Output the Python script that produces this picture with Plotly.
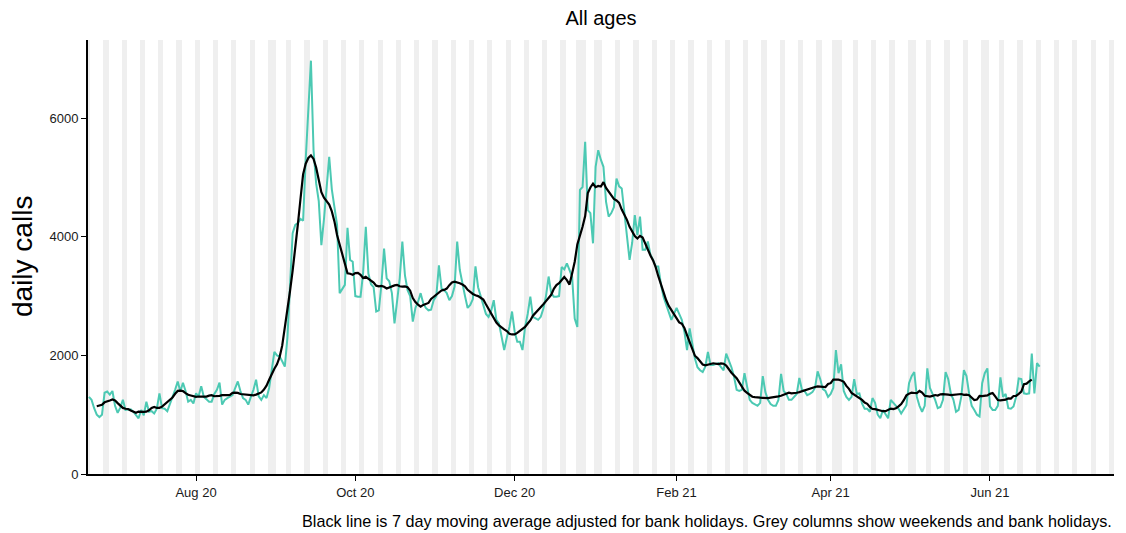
import pandas as pd
import plotly.graph_objects as go

# ---------------- data ----------------
start_date = "2020-06-21"          # first daily value (Sunday)

# daily calls, first value for Sun 21 Jun 2020, then one row per week Mon..Sun
calls = [1300,
    1250, 1110, 1000, 960, 1000, 1370, 1390,     # 22 Jun
    1340, 1400, 1150, 1030, 1120, 1250, 1080,    # 29 Jun
    1080, 1090, 1050, 1000, 940, 1080, 990,      # 6 Jul
    1220, 1050, 1060, 1020, 1100, 1360, 1110,    # 13 Jul
    1100, 1060, 1200, 1300, 1420, 1560, 1390,    # 20 Jul
    1540, 1400, 1220, 1250, 1190, 1360, 1310,    # 27 Jul
    1480, 1300, 1260, 1220, 1220, 1350, 1420,    # 3 Aug
    1540, 1170, 1250, 1280, 1300, 1330, 1450,    # 10 Aug
    1560, 1400, 1280, 1250, 1170, 1300, 1420,    # 17 Aug
    1590, 1310, 1250, 1330, 1280, 1450, 1750,    # 24 Aug
    2060, 2000, 1980, 1900, 1810, 2300, 3100,    # 31 Aug
    4060, 4200, 4230, 4300, 4270, 5300, 6100,    # 7 Sep
    6970, 5460, 4900, 4600, 3860, 4300, 4800,    # 14 Sep
    5350, 4800, 4500, 4200, 3050, 3120, 3190,    # 21 Sep
    4150, 3610, 3580, 3000, 2990, 2990, 3400,    # 28 Sep
    4170, 3380, 3200, 3150, 2740, 2760, 3200,    # 5 Oct
    3800, 3300, 3250, 3050, 2540, 2900, 3300,    # 12 Oct
    3920, 3350, 3100, 3000, 2570, 2800, 2900,    # 19 Oct
    3050, 2880, 2800, 2760, 2770, 2930, 3000,    # 26 Oct
    3520, 3130, 3100, 3050, 2930, 3000, 3160,    # 2 Nov
    3920, 3440, 3200, 3000, 2800, 2850, 2950,    # 9 Nov
    3500, 3150, 3000, 2850, 2700, 2650, 2750,    # 16 Nov
    2930, 2600, 2540, 2320, 2090, 2300, 2480,    # 23 Nov
    2740, 2400, 2230, 2230, 2090, 2480, 2700,    # 30 Nov
    2990, 2650, 2620, 2600, 2650, 2790, 3000,    # 7 Dec
    3330, 3050, 2990, 2990, 3000, 3490, 3450,    # 14 Dec
    3550, 3440, 3330, 2620, 2480, 4790, 4840,    # 21 Dec
    5600, 4450, 4400, 3890, 5180, 5460, 5300,    # 28 Dec
    5180, 4590, 4340, 4400, 4500, 4980, 4850,    # 4 Jan
    4815, 4400, 4060, 3610, 3900, 4365, 4030,    # 11 Jan
    4340, 3780, 3780, 3920, 3700, 3610, 3500,    # 18 Jan
    3500, 3200, 2990, 2850, 2700, 2600, 2700,    # 25 Jan
    2800, 2700, 2600, 2400, 2090, 2455, 2200,    # 1 Feb
    1950, 1800, 1750, 1720, 1810, 2060, 1840,    # 8 Feb
    1840, 1850, 1870, 1800, 1750, 2030, 1920,    # 15 Feb
    1800, 1640, 1420, 1400, 1420, 1700, 1440,    # 22 Feb
    1250, 1200, 1180, 1150, 1200, 1650, 1380,    # 1 Mar
    1250, 1180, 1150, 1150, 1250, 1690, 1400,    # 8 Mar
    1350, 1250, 1250, 1300, 1350, 1620, 1420,    # 15 Mar
    1400, 1330, 1350, 1380, 1450, 1730, 1600,    # 22 Mar
    1430, 1400, 1300, 1350, 1450, 2090, 1700,    # 29 Mar
    1850, 1400, 1300, 1250, 1300, 1600, 1350,    # 5 Apr
    1360, 1190, 1100, 1100, 1050, 1280, 1200,    # 12 Apr
    1000, 940, 1080, 1000, 940, 1250, 1200,      # 19 Apr
    1150, 1100, 1020, 1100, 1160, 1530, 1650,    # 26 Apr
    1720, 1300, 1150, 1050, 1150, 1780, 1450,    # 3 May
    1350, 1250, 1110, 1130, 1250, 1720, 1600,    # 10 May
    1360, 1250, 1050, 1080, 1300, 1750, 1650,    # 17 May
    1360, 1150, 1080, 1000, 970, 1530, 1700,     # 24 May
    1780, 1140, 1080, 1080, 1150, 1630, 1300,    # 31 May
    1350, 1110, 1100, 1140, 1300, 1610, 1600,    # 7 Jun
    1360, 1350, 1360, 2030, 1360, 1870, 1810,    # 14 Jun
]

bank_holidays = ["2020-08-31", "2020-12-25", "2020-12-28", "2021-01-01",
                 "2021-04-02", "2021-04-05", "2021-05-03", "2021-05-31"]
shade_start = "2020-06-21"
shade_end = "2021-07-18"

x_tick_dates = ["2020-08-01", "2020-10-01", "2020-12-01",
                "2021-02-01", "2021-04-01", "2021-06-01"]
x_tick_labels = ["Aug 20", "Oct 20", "Dec 20", "Feb 21", "Apr 21", "Jun 21"]
y_ticks = [0, 2000, 4000, 6000]

title_text = "All ages"
y_title = "daily calls"
caption = ("Black line is 7 day moving average adjusted for bank holidays. "
           "Grey columns show weekends and bank holidays.")

# ---------------- derived ----------------
dates = pd.date_range(start_date, periods=len(calls), freq="D")
moving_avg = pd.Series(calls).rolling(7, center=True).mean()

all_days = pd.date_range(shade_start, shade_end, freq="D")
bh = set(pd.to_datetime(bank_holidays))
shade_days = [d for d in all_days if d.weekday() >= 5 or d in bh]
y_top = max(calls) * 1.05

FONT = "Liberation Sans, Arial, sans-serif"

fig = go.Figure()
fig.add_trace(go.Bar(
    x=shade_days, y=[y_top] * len(shade_days), width=86400000,
    marker=dict(color="#EFEFEF", line=dict(width=0)),
    hoverinfo="skip", showlegend=False))
fig.add_trace(go.Scatter(
    x=dates, y=calls, mode="lines",
    line=dict(color="#4CC9B3", width=2), showlegend=False))
fig.add_trace(go.Scatter(
    x=dates, y=moving_avg, mode="lines",
    line=dict(color="black", width=2.2), showlegend=False))

fig.update_layout(
    width=1126, height=533,
    margin=dict(l=88, r=12, t=40, b=59),
    plot_bgcolor="white", paper_bgcolor="white",
    font=dict(family=FONT, color="black"),
    showlegend=False, bargap=0,
    title=dict(text=title_text, x=0.5, xref="paper", xanchor="center",
               y=1 - 18 / 533, yref="container", yanchor="middle",
               font=dict(size=20, color="black")),
)
fig.update_xaxes(
    type="date",
    range=["2020-06-20 15:30", "2021-07-18 11:30"],
    tickvals=x_tick_dates, ticktext=x_tick_labels,
    ticks="outside", ticklen=5, tickwidth=1.2, tickcolor="black",
    showline=True, linecolor="black", linewidth=2,
    showgrid=False, zeroline=False,
    tickfont=dict(size=13, color="#1a1a1a"),
)
fig.update_yaxes(
    range=[0, y_top],
    tickvals=y_ticks, ticktext=[str(v) for v in y_ticks],
    ticks="outside", ticklen=5, tickwidth=1.2, tickcolor="black",
    showline=True, linecolor="black", linewidth=2,
    showgrid=False, zeroline=False,
    tickfont=dict(size=13, color="#1a1a1a"),
)
fig.add_annotation(text=y_title, textangle=-90, xref="paper", yref="paper",
                   x=(22 - 88) / 1026, y=0.5, xanchor="center", yanchor="middle",
                   showarrow=False, font=dict(size=28, color="black"))
fig.add_annotation(text=caption, xref="paper", yref="paper",
                   x=1, y=-(521 - 474) / 434, xanchor="right", yanchor="middle",
                   showarrow=False, font=dict(size=16.2, color="black"))

fig.write_html("out.html",
               config={"displayModeBar": False},
               post_script="document.body.style.margin='0px';"
                           "document.body.style.overflow='hidden';")
